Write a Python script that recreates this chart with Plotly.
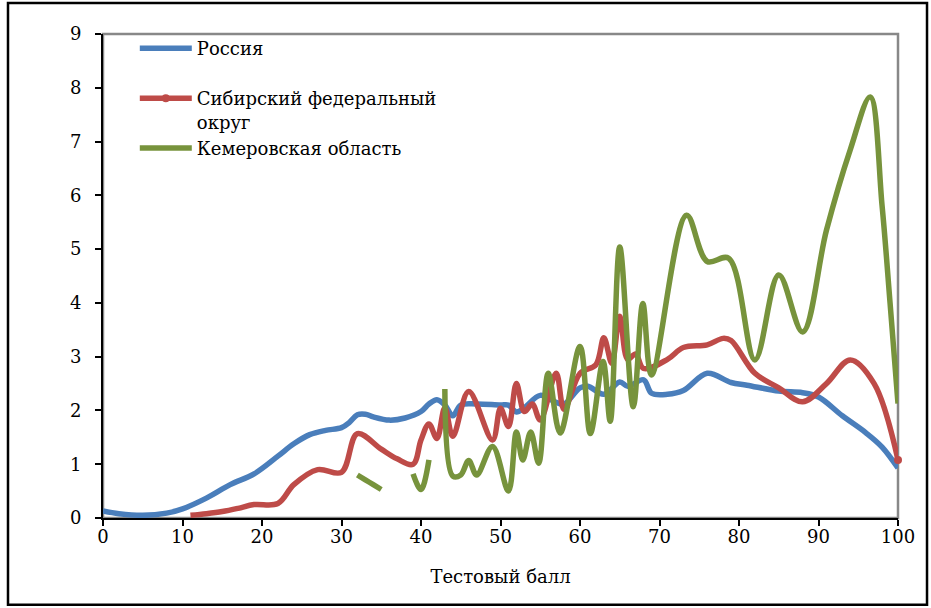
import plotly.graph_objects as go

# ---------------- data ----------------
russia_x = [0, 2, 5, 8, 10, 13, 16, 19, 22, 24, 26, 28, 30, 31, 32, 33, 34, 36, 38, 40, 41, 42, 43, 44,
            45, 47, 50, 51, 52, 53, 55, 57, 58, 60, 61, 63, 65, 66, 68, 69, 71, 73, 76, 79, 81, 85,
            88, 90, 93, 96, 98, 100]
russia_y = [0.13, 0.08, 0.05, 0.09, 0.17, 0.37, 0.62, 0.82, 1.15, 1.38, 1.55, 1.63, 1.68, 1.78, 1.92,
            1.93, 1.88, 1.82, 1.86, 1.98, 2.12, 2.2, 2.1, 1.9, 2.1, 2.12, 2.1, 2.1, 1.97, 2.05, 2.28,
            2.15, 2.12, 2.42, 2.45, 2.3, 2.53, 2.45, 2.57, 2.32, 2.3, 2.37, 2.69, 2.52, 2.47, 2.36,
            2.33, 2.25, 1.9, 1.58, 1.32, 0.93]

sfo_x = [11, 13, 15, 17, 19, 22, 24, 27, 30, 32, 35, 37, 39, 40, 41, 42, 43, 44, 46, 49, 50, 51, 52,
         53, 54, 55, 57, 58, 60, 62, 63, 64, 65, 66, 67, 68, 71, 73, 76, 78, 79, 82, 85, 88, 91, 94,
         97, 100]
sfo_y = [0.05, 0.08, 0.12, 0.18, 0.25, 0.27, 0.62, 0.9, 0.85, 1.57, 1.28, 1.1, 1.0, 1.45, 1.75, 1.48,
         2.05, 1.52, 2.35, 1.45, 2.04, 1.7, 2.5, 1.98, 2.12, 1.82, 2.69, 2.02, 2.69, 2.85, 3.35, 2.88,
         3.75, 2.95, 3.05, 2.78, 2.95, 3.17, 3.22, 3.34, 3.3, 2.69, 2.42, 2.16, 2.5, 2.94, 2.5, 1.08]

kem_x = [32, 33, 34, 35, 36, 39, 40, 41, 42, 43, 44, 45, 46, 47, 49, 51, 52, 52.8, 53.8, 54.8, 56, 57.5,
         60, 61.3, 62.9, 63.8, 65, 66.7, 67.9, 69, 73.4, 76, 78.7, 82, 85, 88, 91, 94, 96.5, 98, 99,
         100]
kem_y = [0.8, 0.71, 0.62, 0.53, None, 0.82, 0.53, 1.08, None, 2.4, 0.78, 0.8, 1.07, 0.8, 1.33, 0.5, 1.6,
         1.08, 1.6, 1.02, 2.69, 1.58, 3.19, 1.57, 2.91, 1.8, 5.04, 2.07, 3.99, 2.66, 5.63, 4.77, 4.83,
         2.94, 4.52, 3.46, 5.35, 6.85, 7.83, 5.8, 4.0, 2.13]

x_ticks = [0, 10, 20, 30, 40, 50, 60, 70, 80, 90, 100]
y_ticks = [0, 1, 2, 3, 4, 5, 6, 7, 8, 9]
x_title = "Тестовый балл"
names = ["Россия<br>&nbsp;", "Сибирский федеральный<br>округ", "Кемеровская область"]

# ---------------- figure ----------------
FONT = "DejaVu Serif"
RED = "#BE4B48"
fig = go.Figure()
fig.add_trace(go.Scatter(x=russia_x, y=russia_y, name=names[0], mode="lines",
                         line=dict(color="#4A7EBB", width=5.5, shape="spline", smoothing=1)))
fig.add_trace(go.Scatter(x=sfo_x, y=sfo_y, name=names[1], mode="lines", legendgroup="sfo",
                         showlegend=False,
                         line=dict(color=RED, width=5.5, shape="spline", smoothing=1)))
# end-point marker of the Siberian series (also supplies the legend entry with a dot)
fig.add_trace(go.Scatter(x=sfo_x[-1:], y=sfo_y[-1:], name=names[1], mode="lines+markers",
                         legendgroup="sfo", cliponaxis=False,
                         line=dict(color=RED, width=5.5), marker=dict(color=RED, size=8)))
fig.add_trace(go.Scatter(x=kem_x, y=kem_y, name=names[2], mode="lines", connectgaps=False,
                         line=dict(color="#77933C", width=5.5, shape="spline", smoothing=1)))

fig.update_layout(
    width=931, height=608,
    margin=dict(l=103, r=33, t=34, b=90),
    paper_bgcolor="white", plot_bgcolor="white",
    font=dict(family=FONT, size=18, color="black"),
    showlegend=True,
    legend=dict(x=0.04, y=1.008, xanchor="left", yanchor="top", bgcolor="rgba(0,0,0,0)",
                font=dict(family=FONT, size=18, color="black"), itemwidth=52, valign="top",
                tracegroupgap=0, traceorder="normal"),
    xaxis=dict(range=[0, 100], tickvals=x_ticks, ticks="outside", ticklen=6, tickwidth=1.5,
               tickcolor="black", showline=True, linecolor="black", linewidth=2, showgrid=False,
               zeroline=False, ticklabelstandoff=-5,
               title=dict(text=x_title, standoff=25, font=dict(family=FONT, size=18)),
               tickfont=dict(family=FONT, size=18)),
    yaxis=dict(range=[0, 9], tickvals=y_ticks, ticks="outside", ticklen=6, tickwidth=1.5,
               tickcolor="black", showline=True, linecolor="black", linewidth=2, showgrid=False,
               zeroline=False, ticklabelstandoff=10, tickfont=dict(family=FONT, size=18)),
    shapes=[
        dict(type="rect", xref="paper", yref="paper", x0=0, x1=1, y0=0, y1=1,
             line=dict(color="#888888", width=2.5), layer="below"),
        dict(type="rect", xref="paper", yref="paper", x0=-0.1195, x1=1.0365, y0=-0.179, y1=1.064,
             line=dict(color="black", width=2.5), layer="below"),
    ],
)

fig.write_html("out.html", config={"displayModeBar": False},
               post_script="document.body.style.margin='0px';")
